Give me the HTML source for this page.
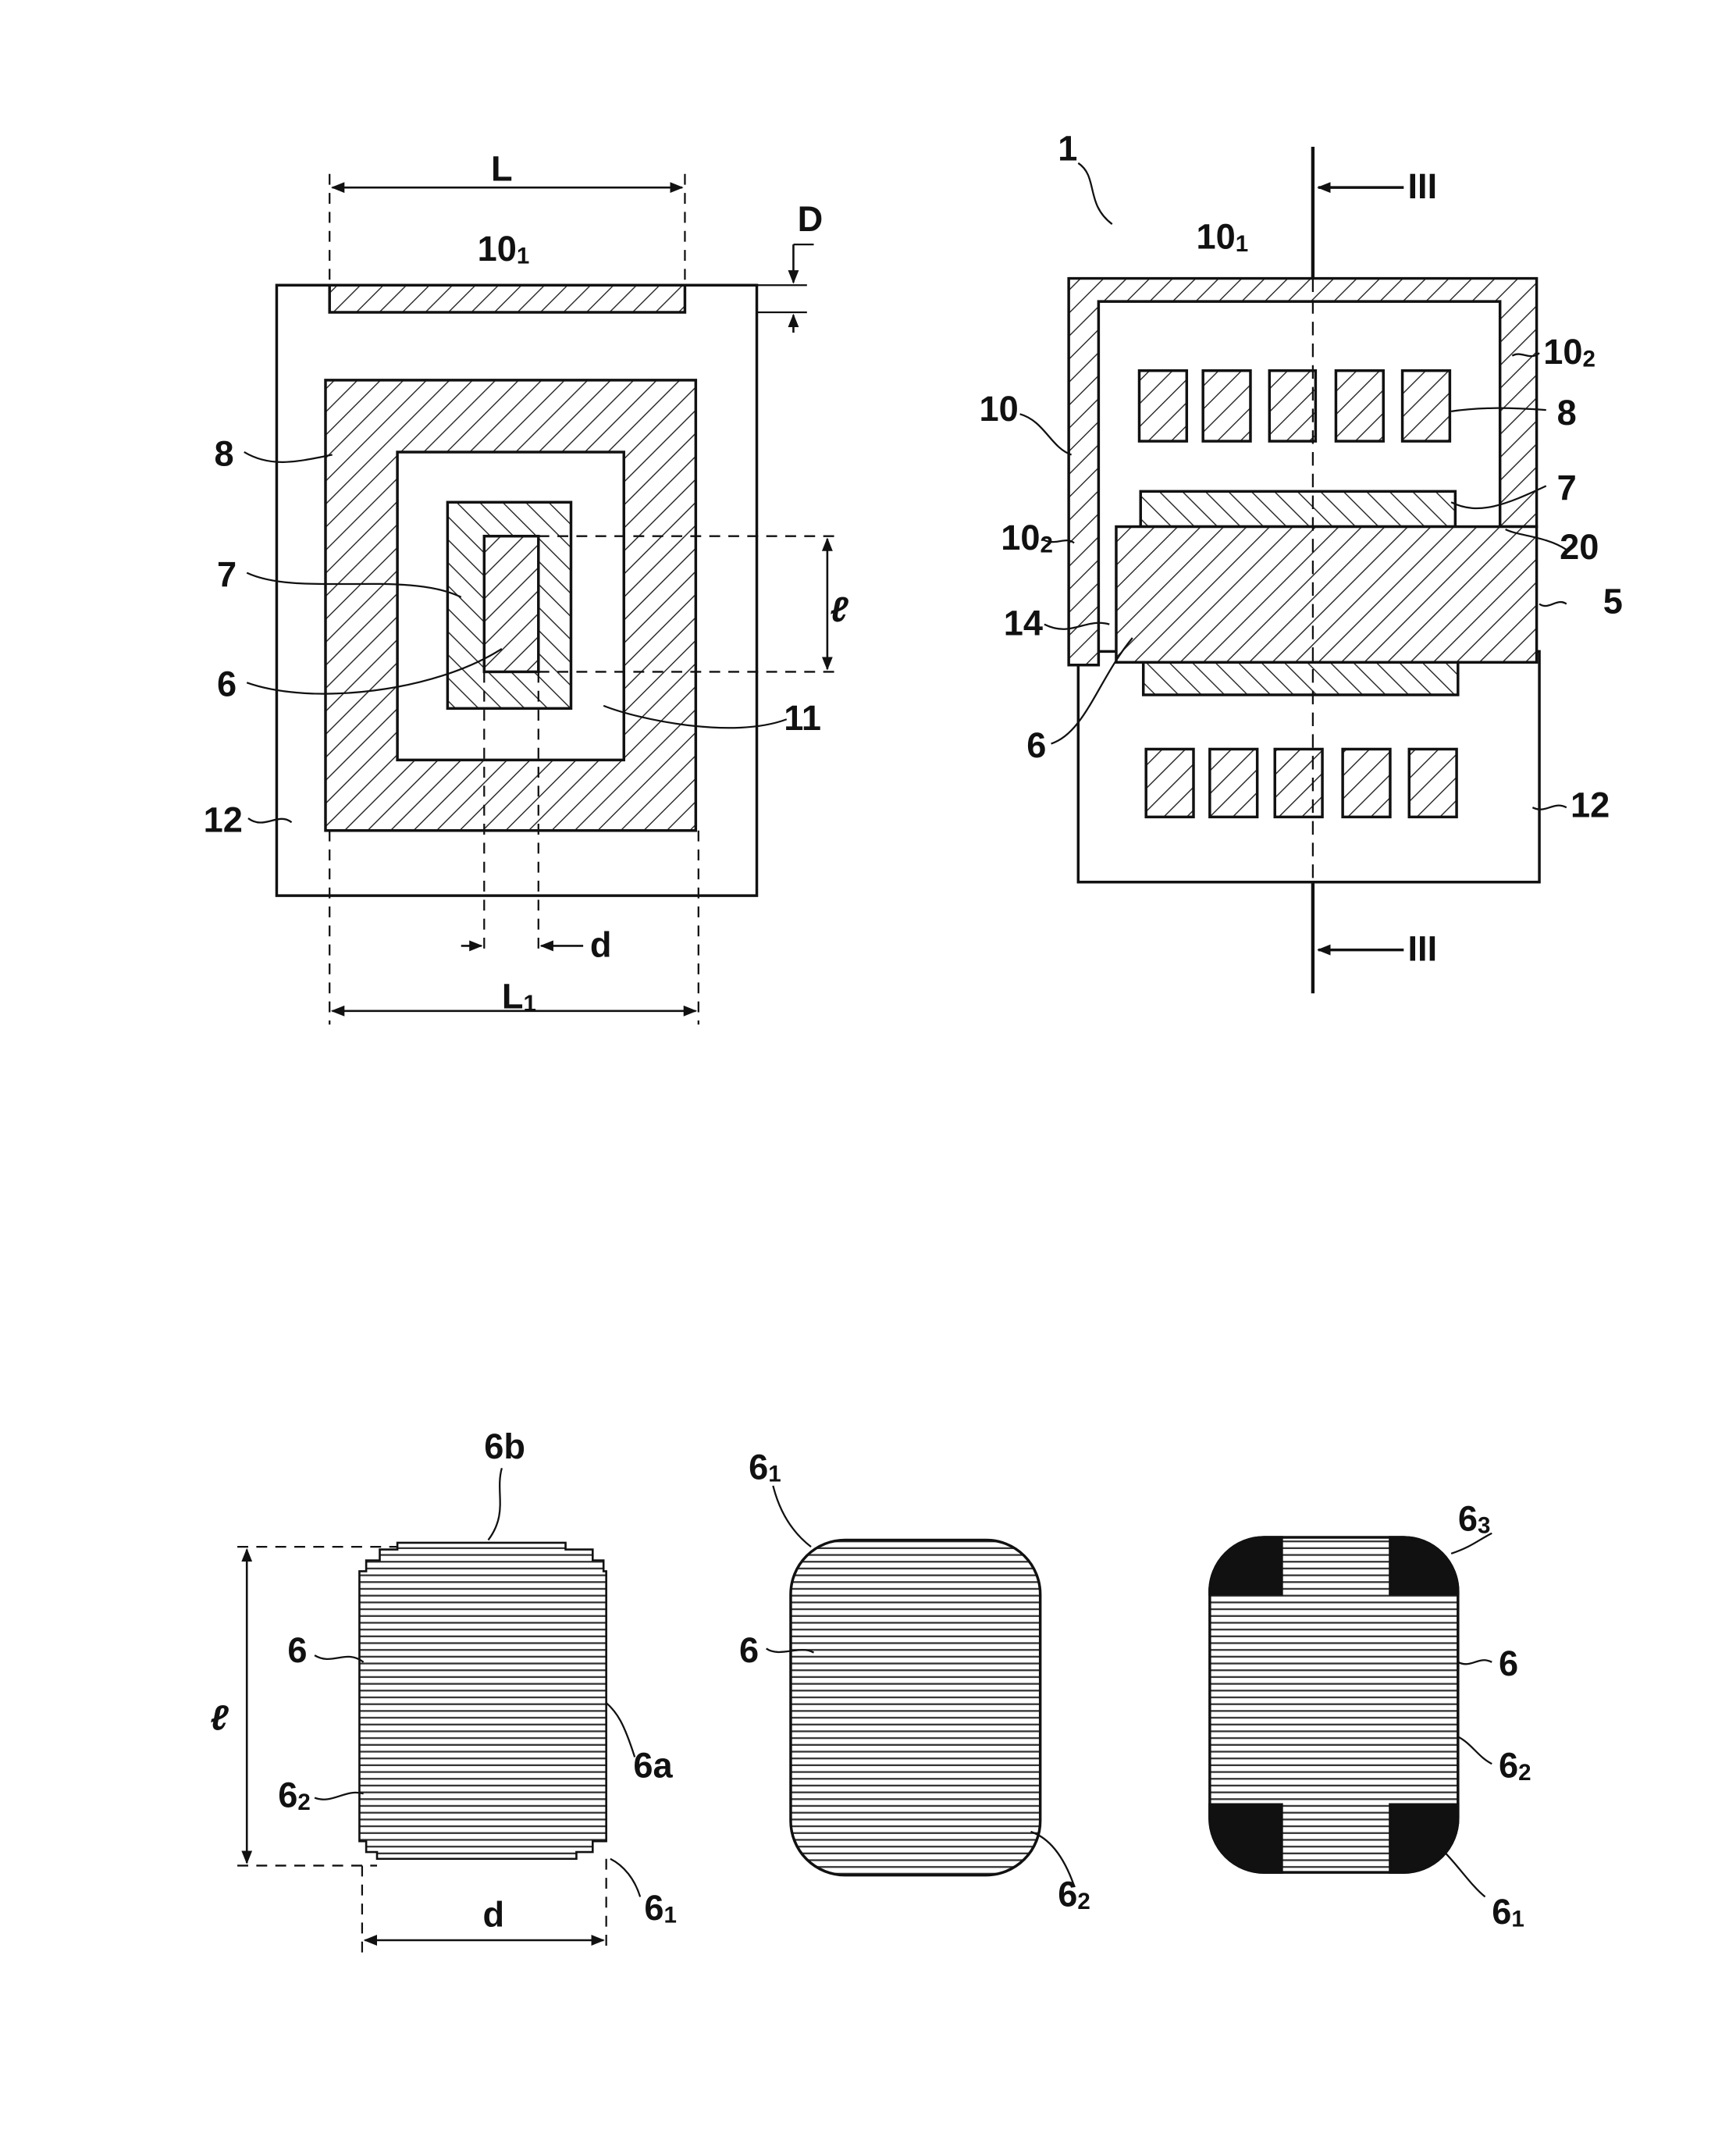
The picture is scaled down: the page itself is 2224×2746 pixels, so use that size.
<!DOCTYPE html>
<html><head><meta charset="utf-8"><style>
html,body{margin:0;padding:0;background:#fff;}
svg{display:block;}
text{font-family:"Liberation Sans",sans-serif;font-weight:bold;fill:#111;}
</style></head><body>
<svg width="2224" height="2746" viewBox="0 0 1280 1580" xmlns="http://www.w3.org/2000/svg">
<defs>
<pattern id="h1" width="12" height="12" patternUnits="userSpaceOnUse" patternTransform="rotate(45)">
<rect width="12" height="12" fill="#fff"/><line x1="0" y1="0" x2="0" y2="12" stroke="#222" stroke-width="1.6"/></pattern>
<pattern id="h2" width="12" height="12" patternUnits="userSpaceOnUse" patternTransform="rotate(-45)">
<rect width="12" height="12" fill="#fff"/><line x1="0" y1="0" x2="0" y2="12" stroke="#222" stroke-width="1.6"/></pattern>
<pattern id="hz" width="10" height="5" patternUnits="userSpaceOnUse">
<rect width="10" height="5" fill="#fff"/><line x1="0" y1="1" x2="10" y2="1" stroke="#333" stroke-width="1.3"/></pattern>
<marker id="ar" markerWidth="10" markerHeight="8" refX="9" refY="4" orient="auto" markerUnits="userSpaceOnUse"><path d="M0,0 L10,4 L0,8z" fill="#111"/></marker>
<marker id="al" markerWidth="10" markerHeight="8" refX="1" refY="4" orient="auto" markerUnits="userSpaceOnUse"><path d="M10,0 L0,4 L10,8z" fill="#111"/></marker>
</defs>
<g stroke="#111" stroke-width="2" fill="none">
<!-- Top-left figure -->
<rect x="204" y="210" width="354" height="450" fill="#fff"/>
<rect x="243" y="210" width="262" height="20" fill="url(#h1)"/>
<path d="M240,280 H513 V612 H240Z M293,333 V560 H460 V333Z" fill="url(#h1)" fill-rule="evenodd"/>
<rect x="330" y="370" width="91" height="152" fill="url(#h2)"/>
<rect x="357" y="395" width="40" height="100" fill="url(#h1)"/>
<g stroke-dasharray="8,6" stroke-width="1.3">
<line x1="243" y1="128" x2="243" y2="210"/><line x1="505" y1="128" x2="505" y2="210"/>
<line x1="397" y1="395" x2="620" y2="395"/><line x1="397" y1="495" x2="620" y2="495"/>
<line x1="357" y1="495" x2="357" y2="705"/><line x1="397" y1="495" x2="397" y2="705"/>
<line x1="243" y1="612" x2="243" y2="755"/><line x1="515" y1="612" x2="515" y2="755"/>
</g>
<line x1="245" y1="138" x2="503" y2="138" marker-start="url(#al)" marker-end="url(#ar)" stroke-width="1.5"/>
<line x1="610" y1="397" x2="610" y2="493" marker-start="url(#al)" marker-end="url(#ar)" stroke-width="1.5"/>
<line x1="245" y1="745" x2="513" y2="745" marker-start="url(#al)" marker-end="url(#ar)" stroke-width="1.5"/>
<line x1="340" y1="697" x2="355" y2="697" marker-end="url(#ar)" stroke-width="1.5"/>
<line x1="430" y1="697" x2="399" y2="697" marker-end="url(#ar)" stroke-width="1.5"/>
<line x1="558" y1="210" x2="595" y2="210" stroke-width="1.3"/><line x1="558" y1="230" x2="595" y2="230" stroke-width="1.3"/>
<line x1="585" y1="180" x2="585" y2="208" marker-end="url(#ar)" stroke-width="1.5"/>
<line x1="585" y1="245" x2="585" y2="232" marker-end="url(#ar)" stroke-width="1.5"/>
<line x1="585" y1="180" x2="600" y2="180" stroke-width="1.3"/>
<g stroke-width="1.3">
<path d="M180,333 C200,345 220,340 245,335"/>
<path d="M182,422 C220,440 300,420 340,440"/>
<path d="M182,503 C230,520 320,510 370,478"/>
<path d="M183,603 C195,612 205,598 215,606"/>
<path d="M580,530 C540,545 470,530 445,520"/>
</g>
<!-- Top-right figure -->
<rect x="795" y="480" width="340" height="170" fill="#fff"/>
<path d="M788,205 H1133 V388 H1106 V222 H810 V490 H788Z" fill="url(#h1)"/>
<g fill="url(#h1)">
<rect x="840" y="273" width="35" height="52"/><rect x="887" y="273" width="35" height="52"/><rect x="936" y="273" width="34" height="52"/><rect x="985" y="273" width="35" height="52"/><rect x="1034" y="273" width="35" height="52"/>
<rect x="845" y="552" width="35" height="50"/><rect x="892" y="552" width="35" height="50"/><rect x="940" y="552" width="35" height="50"/><rect x="990" y="552" width="35" height="50"/><rect x="1039" y="552" width="35" height="50"/>
</g>
<rect x="841" y="362" width="232" height="26" fill="url(#h2)"/>
<rect x="843" y="488" width="232" height="24" fill="url(#h2)"/>
<rect x="823" y="388" width="310" height="100" fill="url(#h1)"/>
<line x1="968" y1="108" x2="968" y2="205" stroke-width="2.5"/>
<line x1="968" y1="205" x2="968" y2="650" stroke-dasharray="10,6" stroke-width="1.3"/>
<line x1="968" y1="650" x2="968" y2="732" stroke-width="2.5"/>
<line x1="1035" y1="138" x2="972" y2="138" marker-end="url(#ar)" stroke-width="2"/>
<line x1="1035" y1="700" x2="972" y2="700" marker-end="url(#ar)" stroke-width="2"/>
<line x1="1106" y1="388" x2="1133" y2="388" stroke-width="1.3"/>
<g stroke-width="1.3">
<path d="M795,120 C810,130 800,150 820,165"/>
<path d="M752,305 C770,310 775,330 790,335"/>
<path d="M770,398 C780,402 785,395 792,400"/>
<path d="M770,460 C790,470 800,455 818,460"/>
<path d="M775,548 C800,540 810,500 835,470"/>
<path d="M1115,262 C1122,258 1128,266 1135,260"/>
<path d="M1140,302 C1110,300 1090,300 1070,303"/>
<path d="M1140,358 C1110,372 1090,380 1070,370"/>
<path d="M1155,405 C1140,395 1120,395 1110,390"/>
<path d="M1155,445 C1148,440 1142,450 1135,445"/>
<path d="M1155,595 C1145,590 1140,600 1130,595"/>
</g>
<!-- Bottom left -->
<path d="M293,1137 H417 V1142 H437 V1150 H445 V1158 H447 V1357 H437 V1365 H425 V1370 H278 V1365 H270 V1357 H265 V1158 H270 V1150 H280 V1142 H293Z" fill="url(#hz)" stroke-width="1.5"/>
<g stroke-dasharray="8,6" stroke-width="1.3">
<line x1="175" y1="1140" x2="293" y2="1140"/><line x1="175" y1="1375" x2="278" y2="1375"/>
<line x1="267" y1="1375" x2="267" y2="1440"/><line x1="447" y1="1370" x2="447" y2="1440"/>
</g>
<line x1="182" y1="1142" x2="182" y2="1373" marker-start="url(#al)" marker-end="url(#ar)" stroke-width="1.5"/>
<line x1="269" y1="1430" x2="445" y2="1430" marker-start="url(#al)" marker-end="url(#ar)" stroke-width="1.5"/>
<g stroke-width="1.3">
<path d="M370,1082 C365,1100 375,1115 360,1135"/>
<path d="M232,1220 C245,1228 255,1215 268,1225"/>
<path d="M232,1325 C245,1330 255,1318 268,1322"/>
<path d="M468,1295 C460,1270 455,1262 447,1255"/>
<path d="M472,1398 C468,1385 460,1375 450,1370"/>
</g>
<!-- Bottom middle -->
<rect x="583" y="1135" width="184" height="247" rx="40" fill="url(#hz)" stroke-width="2"/>
<g stroke-width="1.3">
<path d="M570,1095 C575,1115 585,1130 598,1140"/>
<path d="M565,1215 C575,1222 590,1212 600,1218"/>
<path d="M792,1390 C785,1370 775,1355 760,1350"/>
</g>
<!-- Bottom right -->
<rect x="892" y="1133" width="183" height="247" rx="40" fill="url(#hz)" stroke-width="2"/>
<path d="M932,1133 H945 V1175 H892 V1173 A40,40 0 0 1 932,1133Z" fill="#111"/>
<path d="M1025,1133 H1035 A40,40 0 0 1 1075,1173 V1175 H1025Z" fill="#111"/>
<path d="M892,1330 H945 V1380 H932 A40,40 0 0 1 892,1340Z" fill="#111"/>
<path d="M1025,1330 H1075 V1340 A40,40 0 0 1 1035,1380 H1025Z" fill="#111"/>
<g stroke-width="1.3">
<path d="M1100,1130 C1090,1135 1085,1140 1070,1145"/>
<path d="M1100,1225 C1090,1220 1085,1230 1075,1225"/>
<path d="M1100,1300 C1090,1295 1085,1285 1075,1280"/>
<path d="M1095,1398 C1085,1390 1075,1375 1065,1365"/>
</g>
</g>
<!-- Labels -->
<g font-size="26">
<text x="362" y="133">L</text>
<text x="352" y="192">10<tspan font-size="17" dy="2">1</tspan></text>
<text x="588" y="170">D</text>
<text x="158" y="343">8</text>
<text x="160" y="432">7</text>
<text x="160" y="513">6</text>
<text x="150" y="613">12</text>
<text x="578" y="538">11</text>
<text x="612" y="458" font-style="italic" font-weight="normal">ℓ</text>
<text x="435" y="705">d</text>
<text x="370" y="743">L<tspan font-size="17" dy="2">1</tspan></text>
<text x="780" y="118">1</text>
<text x="1038" y="146">III</text>
<text x="1038" y="708">III</text>
<text x="882" y="183">10<tspan font-size="17" dy="2">1</tspan></text>
<text x="1138" y="268">10<tspan font-size="17" dy="2">2</tspan></text>
<text x="722" y="310">10</text>
<text x="738" y="405">10<tspan font-size="17" dy="2">2</tspan></text>
<text x="740" y="468">14</text>
<text x="1148" y="313">8</text>
<text x="1148" y="368">7</text>
<text x="1150" y="412">20</text>
<text x="1182" y="452">5</text>
<text x="1158" y="602">12</text>
<text x="757" y="558">6</text>
<text x="357" y="1075">6b</text>
<text x="212" y="1225">6</text>
<text x="205" y="1332">6<tspan font-size="17" dy="2">2</tspan></text>
<text x="467" y="1310">6a</text>
<text x="475" y="1415">6<tspan font-size="17" dy="2">1</tspan></text>
<text x="155" y="1275" font-style="italic" font-weight="normal">ℓ</text>
<text x="356" y="1420">d</text>
<text x="552" y="1090">6<tspan font-size="17" dy="2">1</tspan></text>
<text x="545" y="1225">6</text>
<text x="780" y="1405">6<tspan font-size="17" dy="2">2</tspan></text>
<text x="1075" y="1128">6<tspan font-size="17" dy="2">3</tspan></text>
<text x="1105" y="1235">6</text>
<text x="1105" y="1310">6<tspan font-size="17" dy="2">2</tspan></text>
<text x="1100" y="1418">6<tspan font-size="17" dy="2">1</tspan></text>
</g>
</svg>
</body></html>
